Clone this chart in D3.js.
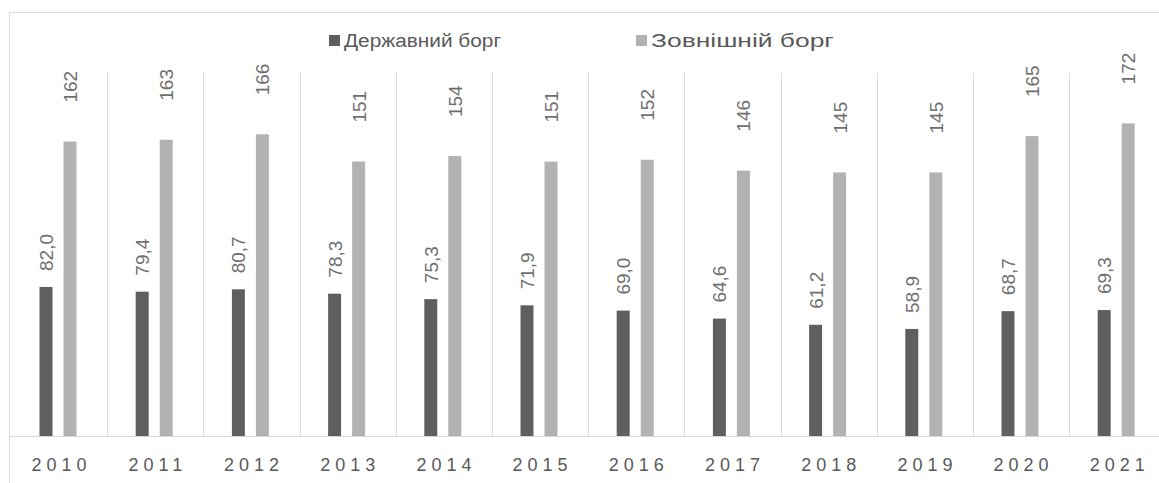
<!DOCTYPE html>
<html>
<head>
<meta charset="utf-8">
<script src="https://cdn.jsdelivr.net/npm/d3@7"></script>
<style>
  body { margin: 0; background: #fff; }
  svg { display: block; font-family: "Liberation Sans", Arial, sans-serif; }
</style>
</head>
<body>
<div id="barChart"></div>
<script>
var years = ["2010", "2011", "2012", "2013", "2014", "2015", "2016", "2017", "2018", "2019", "2020", "2021"];
var seriesNames = ["Державний борг", "Зовнішній борг"];
var govDebt = [82.0, 79.4, 80.7, 78.3, 75.3, 71.9, 69.0, 64.6, 61.2, 58.9, 68.7, 69.3];
var extDebt = [162, 163, 166, 151, 154, 151, 152, 146, 145, 145, 165, 172];
var colors = ["#5f5f5f", "#b2b2b2"];

var width = 1159, height = 483;
var plot = { left: 11, top: 72.5, bottom: 436, step: 96.2 };

var svg = d3.select("#barChart").append("svg")
    .attr("width", width)
    .attr("height", height);

// chart frame (runs off the picture on the right and bottom)
svg.append("rect")
    .attr("x", 9.5).attr("y", 12.5)
    .attr("width", 1200).attr("height", 500)
    .attr("fill", "none")
    .attr("stroke", "#d9d9d9");

var x = d3.scaleBand()
    .domain(years)
    .range([plot.left, plot.left + plot.step * years.length]);

var x1 = d3.scaleBand()
    .domain(seriesNames)
    .range([28.5, 65.5])
    .paddingInner(0.46);

var y = d3.scaleLinear()
    .domain([0, 200])
    .range([plot.bottom, plot.top]);

// category separators
svg.append("g").selectAll("line")
    .data(years.slice(1))
    .enter().append("line")
    .attr("x1", function (d) { return Math.round(x(d)) + 0.5; })
    .attr("x2", function (d) { return Math.round(x(d)) + 0.5; })
    .attr("y1", plot.top)
    .attr("y2", plot.bottom)
    .attr("stroke", "#d9d9d9");

// x axis
var xAxis = svg.append("g")
    .attr("transform", "translate(0," + (plot.bottom + 0.5) + ")")
    .call(d3.axisBottom(x).tickSize(0).tickPadding(22));
xAxis.select(".domain").attr("stroke", "#d9d9d9").attr("d", "M10,0H1200");
xAxis.selectAll("text")
    .attr("font-size", "18px")
    .attr("fill", "#595959")
    .attr("letter-spacing", "5px")
    .attr("dx", "2.5px");

var rows = years.map(function (d, i) {
    return { year: d, values: [govDebt[i], extDebt[i]] };
});

var groups = svg.append("g").selectAll("g")
    .data(rows)
    .enter().append("g")
    .attr("transform", function (d) { return "translate(" + x(d.year) + ",0)"; });

groups.selectAll("rect")
    .data(function (d) {
        return d.values.map(function (v, j) { return { name: seriesNames[j], value: v, j: j }; });
    })
    .enter().append("rect")
    .attr("x", function (d) { return x1(d.name); })
    .attr("y", function (d) { return y(d.value); })
    .attr("width", x1.bandwidth())
    .attr("height", function (d) { return plot.bottom - y(d.value); })
    .attr("fill", function (d) { return colors[d.j]; });

// value labels, rotated
var labelGap = [16, 39];
var fmt = [function (v) { return d3.format(".1f")(v).replace(".", ","); }, d3.format("d")];
groups.selectAll("text.val")
    .data(function (d) {
        return d.values.map(function (v, j) { return { name: seriesNames[j], value: v, j: j }; });
    })
    .enter().append("text")
    .attr("class", "val")
    .attr("transform", function (d) {
        var cx = x1(d.name) + x1.bandwidth() / 2 + 7;
        return "translate(" + cx + "," + (y(d.value) - labelGap[d.j]) + ") rotate(-90)";
    })
    .attr("font-size", "19px")
    .attr("fill", "#6f6f6f")
    .text(function (d) { return fmt[d.j](d.value); });

// legend
var legendX = [329, 636];
var legendLen = [157, 183];
var legend = svg.append("g").selectAll("g")
    .data(seriesNames)
    .enter().append("g")
    .attr("transform", function (d, i) { return "translate(" + legendX[i] + ",0)"; });

legend.append("rect")
    .attr("x", 0).attr("y", 35)
    .attr("width", 11).attr("height", 11)
    .attr("fill", function (d, i) { return colors[i]; });

legend.append("text")
    .attr("x", 15).attr("y", 47)
    .attr("font-size", "18px")
    .attr("textLength", function (d, i) { return legendLen[i]; })
    .attr("lengthAdjust", "spacingAndGlyphs")
    .attr("fill", "#595959")
    .text(function (d) { return d; });
</script>
</body>
</html>
